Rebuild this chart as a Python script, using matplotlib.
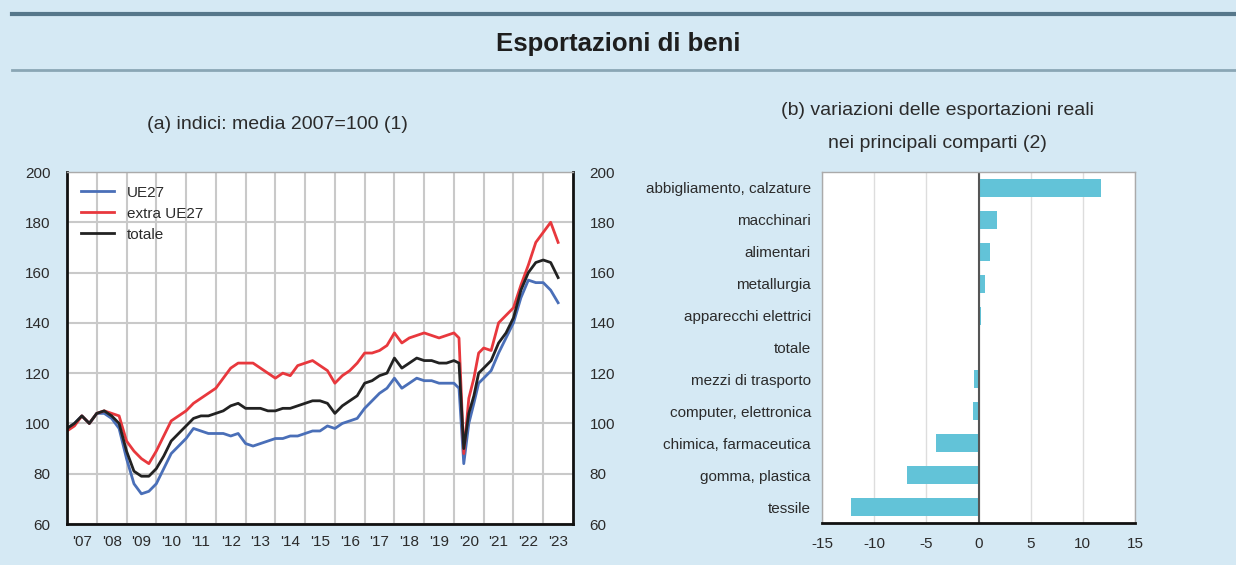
import numpy as np
import matplotlib.pyplot as plt
from matplotlib.lines import Line2D

plt.rcParams['font.family'] = ['Liberation Sans', 'DejaVu Sans']
plt.rcParams['axes.unicode_minus'] = False

# (a) indici: media 2007=100 -- decimal years
dates = [2007.00, 2007.25, 2007.50, 2007.75, 2008.00, 2008.25, 2008.50, 2008.75,
         2009.00, 2009.25, 2009.50, 2009.75, 2010.00, 2010.25, 2010.50, 2010.75,
         2011.00, 2011.25, 2011.50, 2011.75, 2012.00, 2012.25, 2012.50, 2012.75,
         2013.00, 2013.25, 2013.50, 2013.75, 2014.00, 2014.25, 2014.50, 2014.75,
         2015.00, 2015.25, 2015.50, 2015.75, 2016.00, 2016.25, 2016.50, 2016.75,
         2017.00, 2017.25, 2017.50, 2017.75, 2018.00, 2018.25, 2018.50, 2018.75,
         2019.00, 2019.25, 2019.50, 2019.75, 2020.00, 2020.17, 2020.33, 2020.50,
         2020.67, 2020.83, 2021.00, 2021.25, 2021.50, 2021.75, 2022.00, 2022.25,
         2022.50, 2022.75, 2023.00, 2023.25, 2023.50]

extra_ue27 = [97, 99, 103, 100, 104, 105, 104, 103,
              93, 89, 86, 84, 89, 95, 101, 103,
              105, 108, 110, 112, 114, 118, 122, 124,
              124, 124, 122, 120, 118, 120, 119, 123,
              124, 125, 123, 121, 116, 119, 121, 124,
              128, 128, 129, 131, 136, 132, 134, 135,
              136, 135, 134, 135, 136, 134, 88, 110,
              118, 128, 130, 129, 140, 143, 146, 155,
              163, 172, 176, 180, 172]

totale = [98, 100, 103, 100, 104, 105, 103, 100,
          89, 81, 79, 79, 82, 87, 93, 96,
          99, 102, 103, 103, 104, 105, 107, 108,
          106, 106, 106, 105, 105, 106, 106, 107,
          108, 109, 109, 108, 104, 107, 109, 111,
          116, 117, 119, 120, 126, 122, 124, 126,
          125, 125, 124, 124, 125, 124, 90, 104,
          111, 120, 122, 125, 132, 136, 142, 153,
          160, 164, 165, 164, 158]

ue27 = [98, 100, 103, 100, 104, 104, 102, 98,
        86, 76, 72, 73, 76, 82, 88, 91,
        94, 98, 97, 96, 96, 96, 95, 96,
        92, 91, 92, 93, 94, 94, 95, 95,
        96, 97, 97, 99, 98, 100, 101, 102,
        106, 109, 112, 114, 118, 114, 116, 118,
        117, 117, 116, 116, 116, 114, 84, 100,
        108, 116, 118, 121, 128, 134, 140, 150,
        157, 156, 156, 153, 148]

year_labels = ["'07", "'08", "'09", "'10", "'11", "'12", "'13", "'14", "'15",
               "'16", "'17", "'18", "'19", "'20", "'21", "'22", "'23"]

# (b) variazioni delle esportazioni reali
comparti = ['abbigliamento, calzature', 'macchinari', 'alimentari', 'metallurgia',
            'apparecchi elettrici', 'totale', 'mezzi di trasporto',
            'computer, elettronica', 'chimica, farmaceutica', 'gomma, plastica', 'tessile']
variazioni = [11.7, 1.8, 1.15, 0.6, 0.25, 0.0, -0.4, -0.5, -4.1, -6.9, -12.2]

bg = '#d5e9f4'
txt = '#2b2b2b'
grid_c = '#c9c9c9'

fig = plt.figure(figsize=(12.36, 5.65), dpi=100, facecolor=bg)

# header band
fig.add_artist(Line2D([0.01, 1.0], [1 - 14 / 565] * 2, color='#56778a', lw=3))
fig.add_artist(Line2D([0.01, 1.0], [1 - 70 / 565] * 2, color='#8aa6b5', lw=2))
fig.text(0.5, 1 - 44 / 565, 'Esportazioni di beni', ha='center', va='center',
         fontsize=18.5, fontweight='bold', color='#1e1e1e')

# ---- panel (a)
ax1 = fig.add_axes([67 / 1236, 1 - 524 / 565, (573 - 67) / 1236, (524 - 172) / 565])
ax1.set_facecolor('white')
ax1.plot(dates, ue27, color='#4a6fb8', lw=2, label='UE27')
ax1.plot(dates, extra_ue27, color='#e8383d', lw=2, label='extra UE27')
ax1.plot(dates, totale, color='#222222', lw=2, label='totale')
ax1.set_xlim(2007, 2024)
ax1.set_ylim(60, 200)
ax1.set_yticks(np.arange(60, 201, 20))
ax1.set_xticks(np.arange(2008, 2024), minor=False)
ax1.set_xticklabels([])
ax1.set_xticks(np.arange(2007.5, 2024, 1), minor=True)
ax1.set_xticklabels(year_labels, minor=True)
ax1.tick_params(axis='x', which='both', length=0, pad=8, labelsize=11, colors=txt)
ax1.tick_params(axis='y', length=0, pad=12, labelsize=11, colors=txt,
                labelright=True, right=False)
ax1.grid(True, which='major', color=grid_c, lw=1.5)
ax1.set_axisbelow(True)
for s in ['left', 'bottom', 'right']:
    ax1.spines[s].set_linewidth(2)
    ax1.spines[s].set_color('#111111')
ax1.spines['top'].set_color('#aaaaaa')
ax1.spines['top'].set_linewidth(1)
ax1.legend(loc='upper left', frameon=False, fontsize=11, handlelength=2.2,
           labelspacing=0.45, borderaxespad=0.5, labelcolor=txt)
ax1.set_title('(a) indici: media 2007=100 (1)', fontsize=14, color=txt, pad=31,
              x=0.415)

# ---- panel (b)
ax2 = fig.add_axes([822 / 1236, 1 - 523 / 565, (1135 - 822) / 1236, (523 - 172) / 565])
ax2.set_facecolor('white')
ypos = np.arange(len(comparti))
ax2.barh(ypos, variazioni, height=0.56, color='#62c3d8')
ax2.set_ylim(len(comparti) - 0.5, -0.5)
ax2.set_xlim(-15, 15)
ax2.set_xticks(np.arange(-15, 16, 5))
ax2.set_yticks(ypos)
ax2.set_yticklabels(comparti)
ax2.tick_params(axis='both', length=0, labelsize=11, colors=txt)
ax2.tick_params(axis='y', pad=8)
ax2.tick_params(axis='x', pad=10)
ax2.grid(True, axis='x', color='#dddddd', lw=1)
ax2.set_axisbelow(True)
ax2.axvline(0, color='#555555', lw=1.5)
ax2.spines['bottom'].set_linewidth(2)
ax2.spines['bottom'].set_color('#111111')
for s in ['left', 'right', 'top']:
    ax2.spines[s].set_color('#aaaaaa')
    ax2.spines[s].set_linewidth(1)
ax2.set_title('(b) variazioni delle esportazioni reali\nnei principali comparti (2)',
              fontsize=14, color=txt, pad=17, x=0.37, linespacing=2.25)

fig.savefig('out.png', dpi=100, facecolor=bg)
